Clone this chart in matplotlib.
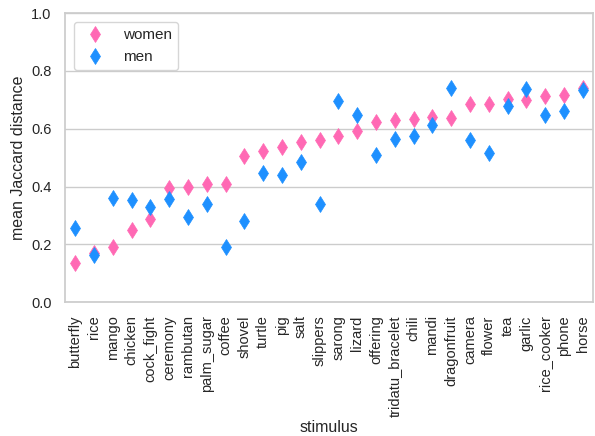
import matplotlib
matplotlib.use("Agg")
import matplotlib.pyplot as plt
import seaborn as sns

stimuli = ["butterfly", "rice", "mango", "chicken", "cock_fight", "ceremony",
           "rambutan", "palm_sugar", "coffee", "shovel", "turtle", "pig", "salt",
           "slippers", "sarong", "lizard", "offering", "tridatu_bracelet", "chili",
           "mandi", "dragonfruit", "camera", "flower", "tea", "garlic",
           "rice_cooker", "phone", "horse"]
women = [0.135, 0.170, 0.190, 0.249, 0.289, 0.394, 0.400, 0.410, 0.410, 0.505,
         0.522, 0.536, 0.553, 0.560, 0.574, 0.592, 0.623, 0.630, 0.633, 0.640,
         0.637, 0.685, 0.685, 0.704, 0.700, 0.713, 0.718, 0.740]
men = [0.258, 0.163, 0.360, 0.353, 0.329, 0.356, 0.294, 0.339, 0.190, 0.280,
       0.446, 0.440, 0.484, 0.340, 0.695, 0.647, 0.509, 0.564, 0.574, 0.614,
       0.740, 0.560, 0.516, 0.678, 0.737, 0.647, 0.662, 0.733]

sns.set_theme(style="whitegrid")
plt.rcParams['font.family'] = ['Liberation Sans', 'DejaVu Sans']

fig, ax = plt.subplots(figsize=(5.95, 4.36), dpi=100)
x = range(len(stimuli))
ax.plot(x, women, linestyle="none", marker="d", markersize=7.8,
        markeredgewidth=0.5, color="hotpink", label="women")
ax.plot(x, men, linestyle="none", marker="d", markersize=7.8,
        markeredgewidth=0.5, color="dodgerblue", label="men")

ax.set_xticks(list(x))
ax.set_xticklabels(stimuli, rotation=90, fontsize=10.5)
ax.tick_params(axis="y", labelsize=10.5)
ax.set_ylim(0, 1.0)
ax.set_xlim(-0.55, len(stimuli) - 0.45)
ax.xaxis.grid(False)
ax.set_xlabel("stimulus", fontsize=11.5, labelpad=2)
ax.set_ylabel("mean Jaccard distance", fontsize=11.5)
ax.legend(loc="upper left", fontsize=11, borderaxespad=0.6)

fig.subplots_adjust(left=0.109, right=0.997, top=0.970, bottom=0.307)
fig.savefig("out.png", dpi=100)
